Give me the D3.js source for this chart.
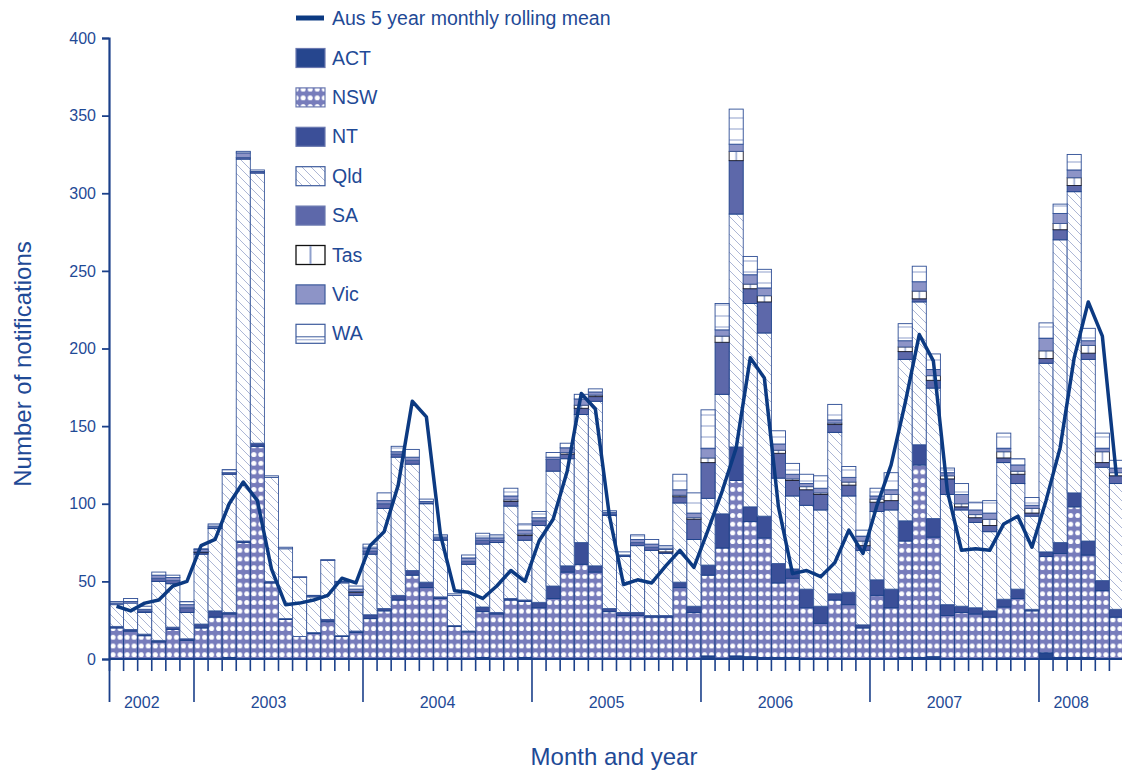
<!DOCTYPE html>
<html><head><meta charset="utf-8">
<script src="https://cdn.jsdelivr.net/npm/d3@7/dist/d3.min.js"></script>
<style>body{margin:0;background:#fff}svg{display:block;font-family:"Liberation Sans",Arial,sans-serif}</style>
</head><body>
<svg id="chart" width="1122" height="774"></svg>
<script>
// ---- DATA ----
const months = ["2002-07","2002-08","2002-09","2002-10","2002-11","2002-12",
"2003-01","2003-02","2003-03","2003-04","2003-05","2003-06","2003-07","2003-08","2003-09","2003-10","2003-11","2003-12",
"2004-01","2004-02","2004-03","2004-04","2004-05","2004-06","2004-07","2004-08","2004-09","2004-10","2004-11","2004-12",
"2005-01","2005-02","2005-03","2005-04","2005-05","2005-06","2005-07","2005-08","2005-09","2005-10","2005-11","2005-12",
"2006-01","2006-02","2006-03","2006-04","2006-05","2006-06","2006-07","2006-08","2006-09","2006-10","2006-11","2006-12",
"2007-01","2007-02","2007-03","2007-04","2007-05","2007-06","2007-07","2007-08","2007-09","2007-10","2007-11","2007-12",
"2008-01","2008-02","2008-03","2008-04","2008-05","2008-06"];
const years = ["2002","2003","2004","2005","2006","2007","2008"];
const yTicks = [0,50,100,150,200,250,300,350,400];

const ACT = [0,0,0,0,0,0, 0,0,1,0,0,0,0,0,0,0,0,0, 0,0,0,0,0,0,0,0,1,0,0,1, 0,0,0,0,0,0,0,0,0,0,0,0,
 2,0.5,2,1.5,1,1,1,0,0,0,0,0, 0,0,1,1,1.5,0,0,0,0,0.5,0,0, 4,1,1,1,0,0];
const NSW = [20,18,15,11,19,12, 20,27,28,75,137,49,25.5,14.5,16.5,24,14.5,17, 26,31,38,54,46,39,21,17.5,29.5,29,38,36,
 33,39,56,61,56,30.5,28,28,27,27,46,30, 52,71,113,87,77,48,51,33,23,38,35,20, 41,33,75,124,77,28,30,29,27,33,39,31, 62,67,97,66,44,27];
const NT = [1,1,1,1,1.5,1, 2.5,4,1,1,2,1,0.5,0,0.5,1.5,0.5,1, 2.5,1.5,3,3,3.5,1,0.5,0.5,3,1,1,1,
 3.5,8,4,14,4,2,2,2,1,1,3.5,4, 6.5,22,21.6,9.5,14,12.5,6,12,11,4,8,2, 10,12,13,13,12,7,4,4,4,5,6,1, 3,7,9,9,6.5,5];
const Qld = [14,17,14,38,28,17, 45,53,89,246,174,67,45,38,23,38,34,23, 39,64.5,89,68.5,50.5,36.5,19.5,43,40.5,45,59.5,38.5,
 49.5,74,69,82.5,106,60,36,43,42,40,51,43, 43,77,150,131,118,55,47,54,62,104,62,48, 44,51,104,92,84,71,62,55,51,88,68,60, 121.5,195,194,117,73,81];
const SA = [0,0,1,2,2,3, 1,0.5,1,1,1,0,0,0,0,0,0,2, 2,3,2,2.5,0.5,1,0,2,2.5,1.5,3,3,
 3,7.5,3,4,3,1,0.5,2,2,1,4,13, 23,33.5,34.4,9.5,20,16,10,10,10,5,7,3, 6,6,5,2,5,10,2,3,4,3,6,2, 3,6.5,4,4,3,5];
const Tas = [0,0,0,0,0,0, 0.5,0,0,0,0,0,0,0,0,0,0,0.5, 0,0,0,0,0,0,0,0,0,0,1,1,
 0,0,1,2,1,0,0,0,0,1.5,1,1, 3,4,6,3,4,2,1,2,1,1,2,3, 2,4,3,5,3,2,2,2,4,4,2,3, 5,4,5,5,7,2];
const Vic = [1,1,1,2,2,2, 1.5,1,0,3,0,0,0,0,0.5,0,0.5,1.5, 2,2,1.5,2,1,1,0,2,1.5,1.5,2.5,2.5,
 2,1.5,3,4,2,1,0.5,2,2,0.5,3.5,3, 6,4,4.6,6,5,4,3,2,3,2,3,3, 2,3,4,6,4,2,6,3,4,2,4,2, 8,6.5,5,3,2,3];
const WA = [1,2,2,2,1.5,2, 0.5,1.5,2,1,1,1,1,0.5,0.5,0.5,0.5,2, 2.5,5,3.5,5,1.5,1.5,1,2,3,2,5,4,
 4,3,3,3,2,1,2,3,3,2,10,13, 25,17,22.6,11.8,12,8.5,7,6,8,10,7,4, 5,11,11,10,10,3,7,5,8,10,4,5, 10,6,10,8,10,5];
const rollingMean = [34,31,36,38,47,50, 73,77,100,114,102,58,35,36,38,41,52,49, 73,82,112,166,156,80,44,43,39,47,57,50,
 76,90,121,171,161,92,48,51,49,60,70,59, 83,108,136,194,181,98,55,57,53,62,83,68, 99,125,165,209,192,108,70,71,70,87,92,72,
 102,136,194,230,208,118];

const seriesNames = ["ACT","NSW","NT","Qld","SA","Tas","Vic","WA"];
const seriesValues = {ACT, NSW, NT, Qld, SA, Tas, Vic, WA};

// ---- SETUP ----
const NAVY = "#1b408a", TEXT = "#1f4a96", LINE = "#0c3a82";
const svg = d3.select("#chart");
const x = d3.scaleBand().domain(d3.range(months.length)).range([109.5, 109.5 + 72 * 14.083]).padding(0);
const y = d3.scaleLinear().domain([0, 400]).range([659, 38]);

const table = months.map((m, i) => {
  const o = {month: m};
  seriesNames.forEach(k => o[k] = seriesValues[k][i]);
  return o;
});
const stacked = d3.stack().keys(seriesNames)(table);

// ---- PATTERNS ----
const defs = svg.append("defs");
defs.append("filter").attr("id", "soft").append("feGaussianBlur").attr("stdDeviation", 0.45);
const bw = x.bandwidth();
// NSW dots
const pN = defs.append("pattern").attr("id", "pNSW").attr("patternUnits", "userSpaceOnUse")
  .attr("x", 109.5).attr("y", 659).attr("width", bw / 2).attr("height", 8.7);
pN.append("rect").attr("width", bw / 2).attr("height", 8.7).attr("fill", "#777cbb");
pN.append("circle").attr("cx", bw / 4).attr("cy", 4.35).attr("r", 2.5).attr("fill", "#fff").attr("filter", "url(#soft)");
// Qld diagonal hatch
const pQ = defs.append("pattern").attr("id", "pQld").attr("patternUnits", "userSpaceOnUse")
  .attr("width", 9).attr("height", 9);
pQ.append("rect").attr("width", 9).attr("height", 9).attr("fill", "#fff");
pQ.append("path").attr("d", "M-2,-2L11,11M-2,7L2,11M7,-2L11,2").attr("stroke", "#a3aed0").attr("stroke-width", 0.9);
// Tas vertical line
const pT = defs.append("pattern").attr("id", "pTas").attr("patternUnits", "userSpaceOnUse")
  .attr("x", 109.5).attr("width", bw).attr("height", 10);
pT.append("rect").attr("width", bw).attr("height", 10).attr("fill", "#fff");
pT.append("line").attr("x1", bw / 2).attr("x2", bw / 2).attr("y1", 0).attr("y2", 10).attr("stroke", "#8fa0cc").attr("stroke-width", 1.5);
// WA horizontal line
const pW = defs.append("pattern").attr("id", "pWA").attr("patternUnits", "userSpaceOnUse")
  .attr("y", 0).attr("width", 10).attr("height", 11);
pW.append("rect").attr("width", 10).attr("height", 11).attr("fill", "#fff");
pW.append("line").attr("x1", 0).attr("x2", 10).attr("y1", 8).attr("y2", 8).attr("stroke", "#8fa0cc").attr("stroke-width", 1);

const fills = {ACT: "#26468e", NSW: "url(#pNSW)", NT: "#3b4f98", Qld: "url(#pQld)", SA: "#5d68aa", Tas: "url(#pTas)", Vic: "#8d94c7", WA: "url(#pWA)"};
const strokes = {ACT: NAVY, NSW: NAVY, NT: NAVY, Qld: "#3c5a9c", SA: NAVY, Tas: "#1a1a2a", Vic: "#3c5a9c", WA: "#2d4d95"};

// ---- BARS ----
const gBars = svg.append("g");
stacked.forEach(s => {
  gBars.append("g").selectAll("rect")
    .data(s.filter(d => d[1] - d[0] > 0))
    .join("rect")
    .attr("x", d => x(months.indexOf(d.data.month)))
    .attr("width", bw)
    .attr("y", d => y(d[1]))
    .attr("height", d => y(d[0]) - y(d[1]))
    .attr("fill", fills[s.key])
    .attr("stroke", strokes[s.key])
    .attr("stroke-width", 0.9);
});

// ---- AXES ----
const gy = svg.append("g").attr("transform", "translate(109,0)")
  .call(d3.axisLeft(y).tickValues(yTicks).tickSize(7).tickPadding(6).tickFormat(d3.format("d")));
gy.select(".domain").attr("stroke", NAVY).attr("stroke-width", 2.2);
gy.selectAll(".tick line").attr("stroke", NAVY).attr("stroke-width", 1.8);
gy.selectAll(".tick text").attr("fill", TEXT).attr("font-size", 16).attr("font-family", "Liberation Sans, Arial, sans-serif");

// x axis baseline
svg.append("line").attr("x1", 109).attr("x2", 1122).attr("y1", y(0)).attr("y2", y(0))
  .attr("stroke", NAVY).attr("stroke-width", 2.2);
// month ticks
svg.append("g").selectAll("line").data(months).join("line")
  .attr("x1", (m, i) => x(i)).attr("x2", (m, i) => x(i))
  .attr("y1", y(0)).attr("y2", (m) => m.endsWith("-01") ? 702 : 671)
  .attr("stroke", NAVY).attr("stroke-width", 1.6);
// first tick (2002) long
svg.append("line").attr("x1", x(0)).attr("x2", x(0)).attr("y1", y(0)).attr("y2", 702)
  .attr("stroke", NAVY).attr("stroke-width", 1.8);
// year labels
const yearSpans = years.map(yr => {
  const idx = months.map((m, i) => m.startsWith(yr) ? i : -1).filter(i => i >= 0);
  return {yr, x0: x(idx[0]), x1: x(idx[idx.length - 1]) + bw};
});
svg.append("g").selectAll("text").data(yearSpans).join("text")
  .attr("x", d => (d.x0 + d.x1) / 2 - 10).attr("y", 708)
  .attr("text-anchor", "middle").attr("fill", TEXT).attr("font-size", 16).text(d => d.yr);

// axis titles
svg.append("text").attr("x", 614).attr("y", 765).attr("text-anchor", "middle")
  .attr("fill", TEXT).attr("font-size", 24).text("Month and year");
svg.append("text").attr("transform", "translate(31,364) rotate(-90)").attr("text-anchor", "middle")
  .attr("fill", TEXT).attr("font-size", 24).text("Number of notifications");

// ---- LINE ----
svg.append("path").datum(rollingMean)
  .attr("fill", "none").attr("stroke", LINE).attr("stroke-width", 3.5).attr("stroke-linejoin", "round")
  .attr("d", d3.line().x((d, i) => x(i) + bw / 2).y(d => y(d)));

// ---- LEGEND ----
const lg = svg.append("g");
lg.append("line").attr("x1", 296).attr("x2", 324).attr("y1", 18).attr("y2", 18).attr("stroke", LINE).attr("stroke-width", 5);
lg.append("text").attr("x", 332).attr("y", 25).attr("fill", TEXT).attr("font-size", 19.5).text("Aus 5 year monthly rolling mean");
seriesNames.forEach((k, j) => {
  const cy = 58 + j * 39.4;
  const g = lg.append("g");
  if (k === "Tas") {
    g.append("rect").attr("x", 296).attr("y", cy - 9.5).attr("width", 29).attr("height", 19).attr("fill", "#fff").attr("stroke", "#111").attr("stroke-width", 1.3);
    g.append("line").attr("x1", 310.5).attr("x2", 310.5).attr("y1", cy - 9).attr("y2", cy + 9).attr("stroke", "#8fa0cc").attr("stroke-width", 2);
  } else if (k === "WA") {
    g.append("rect").attr("x", 296).attr("y", cy - 9.5).attr("width", 29).attr("height", 19).attr("fill", "#fff").attr("stroke", "#3c5a9c").attr("stroke-width", 1.2);
    g.append("line").attr("x1", 296).attr("x2", 325).attr("y1", cy + 3).attr("y2", cy + 3).attr("stroke", "#3c5a9c").attr("stroke-width", 1);
    g.append("line").attr("x1", 296).attr("x2", 325).attr("y1", cy + 6).attr("y2", cy + 6).attr("stroke", "#8fa0cc").attr("stroke-width", 1);
  } else {
    g.append("rect").attr("x", 296).attr("y", cy - 9.5).attr("width", 29).attr("height", 19)
      .attr("fill", fills[k]).attr("stroke", strokes[k] === NAVY ? "#6a78b0" : strokes[k]).attr("stroke-width", 1.2);
  }
  g.append("text").attr("x", 332).attr("y", cy + 6.5).attr("fill", TEXT).attr("font-size", 19.5).text(k);
});
</script>
</body></html>
